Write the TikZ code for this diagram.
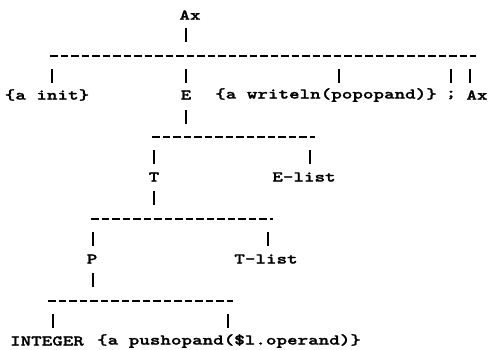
\documentclass[tikz,border=0pt]{standalone}
\usepackage{fontspec}
\newfontfamily\tw{lmmonolt10-bold.otf}[FakeBold=1.2]
\begin{document}
\begin{tikzpicture}[x=1pt,y=-1pt,
  txt/.style={inner sep=0pt, font=\tw\fontsize{15}{15}\selectfont, xscale=1.34, transform shape},
  bar/.style={line width=1.4pt},
  hyph/.style={line width=1.7pt, dash pattern=on 7.5pt off 3pt}]
\useasboundingbox (0,0) rectangle (491,349);
% text rows
\node[txt] (ax) at (190,15) {Ax};
\node[txt] (init) at (47,95) {\{a init\}};
\node[txt] (e) at (186,95) {E};
\node[txt] (wr) at (326,95) {\{a writeln(popopand)\}};
\node[txt] (semi) at (451,95) {;};
\node[txt] (ax2) at (477,95) {Ax};
\node[txt] (t) at (154,177) {T};
\node[txt] (el) at (304,177) {E-list};
\node[txt] (p) at (92,259) {P};
\node[txt] (tl) at (266,259) {T-list};
\node[txt] (int) at (47,341) {INTEGER};
\node[txt] (push) at (229,341) {\{a pushopand(\$l.operand)\}};
% dashed rows
\coordinate (d0a) at (50,56);  \coordinate (d0b) at (476,56);
\coordinate (d1a) at (152,137); \coordinate (d1b) at (315,137);
\coordinate (d2a) at (91,219);  \coordinate (d2b) at (273,219);
\coordinate (d3a) at (48,301);  \coordinate (d3b) at (233,301);
\draw[hyph] (d0a) -- (d0b);
\draw[hyph] (d1a) -- (d1b);
\draw[hyph] (d2a) -- (d2b);
\draw[hyph] (d3a) -- (d3b);
% bars
\draw[bar] (186,28) -- (186,42);
\draw[bar] (52,69) -- (52,83);
\draw[bar] (186,69) -- (186,83);
\draw[bar] (339,69) -- (339,83);
\draw[bar] (451,69) -- (451,83);
\draw[bar] (470,69) -- (470,83);
\draw[bar] (186,110) -- (186,124);
\draw[bar] (154,150) -- (154,164);
\draw[bar] (310,150) -- (310,164);
\draw[bar] (154,191) -- (154,205);
\draw[bar] (93,232) -- (93,246);
\draw[bar] (268,232) -- (268,246);
\draw[bar] (93,273) -- (93,287);
\draw[bar] (53,314) -- (53,328);
\draw[bar] (228,314) -- (228,328);
\end{tikzpicture}
\end{document}
